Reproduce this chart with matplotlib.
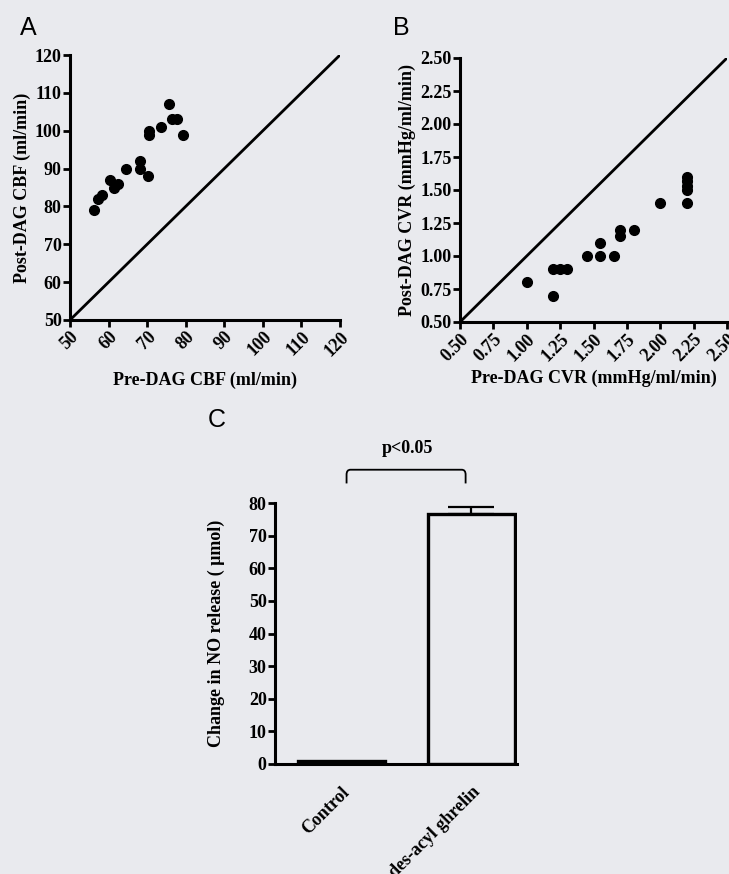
import matplotlib
matplotlib.use("Agg")
import matplotlib.pyplot as plt
from matplotlib.path import Path
from matplotlib.patches import PathPatch

## data

cbf_pre = [56.2, 57.3, 58.4, 60.4, 61.3, 62.5, 64.5, 68.1, 68.1, 70.3, 70.5, 70.5, 73.5, 75.7, 76.4, 77.7, 79.4]
cbf_post = [79, 82, 83, 87, 85, 86, 90, 92, 90, 88, 100, 99, 101, 107, 103, 103, 99]

cvr_pre = [1.00, 1.20, 1.20, 1.25, 1.30, 1.45, 1.55, 1.55, 1.65, 1.70, 1.70, 1.80, 2.00, 2.20, 2.20, 2.20, 2.20, 2.20]
cvr_post = [0.80, 0.70, 0.90, 0.90, 0.90, 1.00, 1.00, 1.10, 1.00, 1.15, 1.20, 1.20, 1.40, 1.40, 1.50, 1.53, 1.57, 1.60]

groups = ["Control", "des-acyl ghrelin"]
no_release = [0.8, 76.6]
no_err = [0.0, 2.1]

cbf_ticks = [50, 60, 70, 80, 90, 100, 110, 120]
cvr_ticks = [0.50, 0.75, 1.00, 1.25, 1.50, 1.75, 2.00, 2.25, 2.50]
no_ticks = [0, 10, 20, 30, 40, 50, 60, 70, 80]

## style

bg = '#e9eaee'
plt.rcParams['font.family'] = ['Liberation Serif', 'DejaVu Serif']
plt.rcParams['font.weight'] = 'bold'
plt.rcParams['axes.labelweight'] = 'bold'

W, H = 729, 874
fig = plt.figure(figsize=(W / 100, H / 100), dpi=100, facecolor=bg)


def px_axes(l, t, r, b):
    return fig.add_axes([l / W, 1 - b / H, (r - l) / W, (b - t) / H], facecolor=bg)


def style(ax):
    for s in ['top', 'right']:
        ax.spines[s].set_visible(False)
    for s in ['left', 'bottom']:
        ax.spines[s].set_linewidth(2.2)
    ax.tick_params(axis='both', direction='out', length=5, width=2, labelsize=13, pad=1)


## A

ax1 = px_axes(70, 55, 340, 320)
ax1.plot([50, 120], [50, 120], color='black', linewidth=2)
ax1.plot(cbf_pre, cbf_post, 'o', color='black', markersize=7, clip_on=False)
ax1.set_xlim(50, 120)
ax1.set_ylim(50, 120)
ax1.set_xticks(cbf_ticks)
ax1.set_yticks(cbf_ticks)
ax1.set_xticklabels([str(t) for t in cbf_ticks], rotation=45, ha='right', va='top', rotation_mode='anchor')
style(ax1)
ax1.set_xlabel("Pre-DAG CBF (ml/min)", fontsize=13, labelpad=9)
ax1.set_ylabel("Post-DAG CBF (ml/min)", fontsize=13, labelpad=3)

## B

ax2 = px_axes(460, 58, 727, 322)
ax2.plot([0.5, 2.5], [0.5, 2.5], color='black', linewidth=2)
ax2.plot(cvr_pre, cvr_post, 'o', color='black', markersize=7, clip_on=False)
ax2.set_xlim(0.5, 2.5)
ax2.set_ylim(0.5, 2.5)
ax2.set_xticks(cvr_ticks)
ax2.set_yticks(cvr_ticks)
ax2.set_xticklabels(["%.2f" % t for t in cvr_ticks], rotation=45, ha='right', va='top', rotation_mode='anchor')
ax2.set_yticklabels(["%.2f" % t for t in cvr_ticks])
style(ax2)
ax2.set_xlabel("Pre-DAG CVR (mmHg/ml/min)", fontsize=13, labelpad=4)
ax2.set_ylabel("Post-DAG CVR (mmHg/ml/min)", fontsize=13, labelpad=3)

## C

ax3 = px_axes(275, 503, 517, 764)
xpos = [0, 1]
ax3.bar(xpos, no_release, width=0.67, color=bg, edgecolor='black', linewidth=2.4)
ax3.errorbar(xpos[1:], no_release[1:], yerr=[[0], no_err[1:]], fmt='none',
             ecolor='black', elinewidth=1.6, capsize=16.5, capthick=1.6)
ax3.set_xlim(-0.51, 1.35)
ax3.set_ylim(0, 80)
ax3.set_yticks(no_ticks)
ax3.set_xticks([0.0, 1.0])
ax3.set_xticklabels(groups, rotation=45, ha='right', va='top', rotation_mode='anchor', fontsize=13)
style(ax3)
ax3.tick_params(axis='x', length=0, pad=14)
ax3.set_ylabel("Change in NO release ( μmol)", fontsize=13, labelpad=17)

# significance bracket
x0, x1, ytop, ybot, r = 0.04, 0.955, 90.2, 86.0, 0.03
verts = [(x0, ybot), (x0, ytop - 1.5), (x0, ytop), (x0 + r, ytop),
         (x1 - r, ytop), (x1, ytop), (x1, ytop - 1.5), (x1, ybot)]
codes = [Path.MOVETO, Path.LINETO, Path.CURVE3, Path.CURVE3,
         Path.LINETO, Path.CURVE3, Path.CURVE3, Path.LINETO]
ax3.add_patch(PathPatch(Path(verts, codes), facecolor='none', edgecolor='black',
                        linewidth=1.3, clip_on=False))
ax3.text(0.51, 96.8, "p<0.05", ha='center', va='center', fontsize=13, fontweight='bold')

## panel letters

for lab, x, y in [("A", 20, 28), ("B", 393, 28), ("C", 208, 420)]:
    fig.text(x / W, 1 - y / H, lab, fontsize=18, fontweight='normal',
             family=['Liberation Sans', 'DejaVu Sans'], ha='left', va='center')

plt.savefig("out.png", dpi=100, facecolor=bg)
